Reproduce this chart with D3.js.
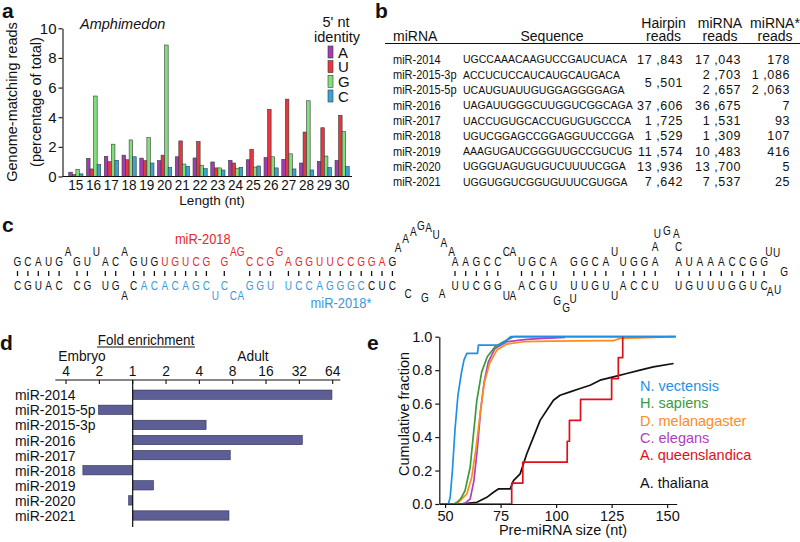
<!DOCTYPE html>
<html><head><meta charset="utf-8">
<script src="https://cdn.jsdelivr.net/npm/d3@7"></script>
<style>
body{margin:0;background:#fff}
svg{display:block}
text{font-family:"Liberation Sans",Arial,Helvetica,sans-serif}
</style>
</head><body>
<svg id="fig" width="800" height="542"></svg>
<script>
// ================= DATA =================
// Panel a
const lengths = ["15","16","17","18","19","20","21","22","23","24","25","26","27","28","29","30"];
const ntIds = ["A","U","G","C"];
const readsA = [0.29,1.22,1.36,1.44,1.24,1.07,1.33,1.25,0.98,1.09,1.13,1.27,1.16,0.91,1.02,1.09];
const readsU = [0.13,0.51,1.00,1.13,1.07,1.44,2.40,2.36,0.58,0.91,1.84,4.53,5.22,3.00,3.29,4.13];
const readsG = [0.47,5.43,2.18,2.47,2.62,8.87,0.84,0.76,0.58,0.56,0.64,1.33,1.53,5.11,1.38,3.04];
const readsC = [0.18,0.80,1.09,1.33,0.91,0.60,0.69,0.53,0.44,0.62,0.71,0.58,0.51,0.44,0.60,0.67];
const yTicksA = [0,2,4,6,8,10];

// Panel b
const mirNames = ["miR-2014","miR-2015-3p","miR-2015-5p","miR-2016","miR-2017","miR-2018","miR-2019","miR-2020","miR-2021"];
const mirSeqs = ["UGCCAAACAAGUCCGAUCUACA","ACCUCUCCAUCAUGCAUGACA","UCAUGUAUUGUGGAGGGGAGA","UAGAUUGGGCUUGGUCGGCAGA","UACCUGUGCACCUGUGUGCCCA","UGUCGGAGCCGGAGGUUCCGGA","AAAGUGAUCGGGUUGCCGUCUG","UGGGUAGUGUGUCUUUUCGGA","UGGUGGUCGGUGUUUCGUGGA"];
const hairpinReads = [17843,5501,null,37606,1725,1529,11574,13936,7642];
const matureReads = [17043,2703,2657,36675,1531,1309,10483,13700,7537];
const starReads = [178,1086,2063,7,93,107,416,5,25];

// Panel c (hairpin of miR-2018); '-' = no base, '*' = bulge group
const stemLTop  = "GCAUGAGUUACAGUGUGUCG-GAGCCGGAGGUUCCGGAG";
const stemLBot  = "CGUAC-CG-UGACACACAGCUCCAGGU-UCCAGGGCCUC";
const stemLKind = "pppppbppbppbppppppppbpbbpppbppppppppppp";
const mirTopRange = [15,37];   // miR-2018 on top strand (column index)
const starBotRange = [13,35];  // miR-2018* on bottom strand
const loop1Top = "AAAGAUAA";
const loop1Bot = "CGA";
const stemR1Top  = "AAGCCCAUGCA-GGCAUUGGA";
const stemR1Bot  = "UUCGGUAACGU*UUGUUACCU";
const stemR1Kind = "pppppbbppppvppppbpppp";
const bulgeV = "GGU";
const loop2Top = "AUGAC";
const stemR2Top  = "AUAAACCGG";
const stemR2Bot  = "UGUUUGGUC";
const stemR2Kind = "ppppppppp";
const termLoop = "UUGUA";

// Panel d
const mirOrderD = ["miR-2014","miR-2015-5p","miR-2015-3p","miR-2016","miR-2017","miR-2018","miR-2019","miR-2020","miR-2021"];
const foldEnrich = [63,0.49,4.6,34,7.6,0.355,1.54,0.92,7.4];   // adult / embryo
const foldTicks = [0.25,0.5,1,2,4,8,16,32,64];

// Panel e
const species = ["N. vectensis","H. sapiens","D. melanagaster","C. elegans","A. queenslandica","A. thaliana"];
const cdfNve = [[48,0],[51.5,0],[52.3,0.04],[53.3,0.2],[54.5,0.45],[55.8,0.65],[57.3,0.78],[58.5,0.86],[59.8,0.9],[64.6,0.9],[65,0.95],[74.8,0.95],[77,0.97],[79.5,1],[154,1]];
const cdfHsa = [[48,0],[54,0],[55.3,0.01],[57,0.03],[59,0.08],[61.3,0.22],[62.8,0.42],[64.3,0.62],[66.5,0.79],[69,0.88],[72.5,0.94],[76.3,0.97],[80.8,1],[154,1]];
const cdfDme = [[48,0],[55,0],[56,0.01],[59.8,0.06],[62,0.16],[64,0.34],[65.8,0.54],[67.6,0.72],[70,0.84],[73.3,0.92],[77.8,0.956],[85.3,0.97],[97.3,0.974],[125.8,0.976],[128.8,0.99],[140.8,0.994],[152.9,1]];
const cdfCel = [[48,0],[58,0],[59,0.005],[61.3,0.03],[63,0.14],[64.6,0.34],[66,0.56],[67.6,0.73],[69.5,0.85],[72.5,0.93],[77.8,0.97],[86.8,0.984],[94.3,0.99],[104,0.996]];
const aqueSizes = [80,85,105,106,111,125,128,130];
const cdfAth = [[48,0],[56,0],[60,0.004],[64.3,0.01],[68.8,0.04],[71.8,0.07],[74,0.09],[79.3,0.09],[80.8,0.14],[83.8,0.18],[86.8,0.3],[89.8,0.4],[92.8,0.5],[95.8,0.56],[98.8,0.62],[101.8,0.65],[106.3,0.67],[110.8,0.69],[115.3,0.71],[119.8,0.74],[125.8,0.76],[131.8,0.78],[137.8,0.8],[143.8,0.82],[152.9,0.84]];
const xTicksE = [50,75,100,125,150];
const yTicksE = [0,0.2,0.4,0.6,0.8,1.0];

// ================= HELPERS =================
const svg = d3.select("#fig");
function T(g, x, y, s, o = {}) {
  let tr = `translate(${x},${y})`;
  if (o.rot) tr += ` rotate(${o.rot})`;
  if (o.sx && o.sx !== 1) tr += ` scale(${o.sx},1)`;
  const t = g.append("text").attr("transform", tr)
    .attr("font-size", o.size || 14)
    .attr("text-anchor", o.anchor || "start")
    .attr("fill", o.fill || "#111").text(s);
  if (o.weight) t.attr("font-weight", o.weight);
  if (o.italic) t.attr("font-style", "italic");
  if (o.family) t.attr("font-family", o.family);
  if (o.ls) t.attr("letter-spacing", o.ls);
  return t;
}
const BLACK = "#111";

// panel letters
[["a",2,18],["b",375,18],["c",2,232],["d",0,350],["e",367,350]].forEach(([l,x,y]) =>
  T(svg, x, y, l, {size: 21, weight: "bold"}));

// ================= PANEL A =================
(function(){
  const g = svg.append("g");
  const x = d3.scaleBand().domain(lengths).range([67, 351]);
  const xs = d3.scaleBand().domain(ntIds).range([0, x.bandwidth()]).paddingOuter(0.5);
  const y = d3.scaleLinear().domain([0, 10]).range([176.5, 28.3]);
  const colors = ["#a13db2","#e5373d","#7fe07b","#37a6d6"];
  const series = [readsA, readsU, readsG, readsC];
  series.forEach((vals, si) => {
    g.selectAll(null).data(vals).enter().append("rect")
      .attr("x", (d,i) => x(lengths[i]) + xs(ntIds[si]))
      .attr("width", xs.bandwidth())
      .attr("y", d => y(d)).attr("height", d => y(0) - y(d))
      .attr("fill", colors[si]).attr("stroke", "#3a3a3a").attr("stroke-width", 0.6);
  });
  const ax = g.append("g").attr("transform", "translate(62.5,0)")
    .call(d3.axisLeft(y).tickValues(yTicksA).tickSize(4).tickSizeOuter(0).tickPadding(2));
  ax.selectAll("path,line").attr("stroke", BLACK).attr("stroke-width", 1.1);
  ax.selectAll("text").attr("font-size", 15).attr("fill", BLACK)
    .attr("font-family", '"Liberation Sans",Arial,sans-serif');
  g.append("line").attr("x1", 62.5).attr("x2", 352).attr("y1", y(0)).attr("y2", y(0))
    .attr("stroke", BLACK).attr("stroke-width", 1.1);
  lengths.forEach(l => T(g, x(l) + x.bandwidth()/2, 190, l, {size: 14, anchor: "middle", sx: 0.97}));
  T(g, 212, 205, "Length (nt)", {size: 13.5, anchor: "middle"});
  T(g, 17, 102, "Genome-matching reads", {size: 14.5, anchor: "middle", rot: -90});
  T(g, 41, 102, "(percentage of total)", {size: 14.5, anchor: "middle", rot: -90});
  T(g, 80, 29, "Amphimedon", {size: 14.5, italic: true});
  T(g, 336, 27, "5' nt", {size: 14.5, anchor: "middle"});
  T(g, 337, 42, "identity", {size: 14.5, anchor: "middle"});
  const ly = d3.scalePoint().domain(ntIds).range([52, 96]);
  ntIds.forEach((n, i) => {
    g.append("rect").attr("x", 328).attr("y", ly(n) - 6).attr("width", 5).attr("height", 12)
      .attr("fill", colors[i]).attr("stroke", "#3a3a3a").attr("stroke-width", 0.6);
    T(g, 338, ly(n) + 5.5, n, {size: 15});
  });
})();

// ================= PANEL B =================
(function(){
  const g = svg.append("g");
  const y = d3.scalePoint().domain(mirNames).range([59.3, 181.7]);
  const fmt = v => d3.format(",")(v).replace(",", " ,");
  const serif = '"Liberation Serif","Times New Roman",serif';
  T(g, 393, 41, "miRNA", {size: 14});
  T(g, 552, 41, "Sequence", {size: 14, anchor: "middle"});
  T(g, 663.5, 28, "Hairpin", {size: 14, anchor: "middle"});
  T(g, 663.5, 41, "reads", {size: 14, anchor: "middle"});
  T(g, 720, 28, "miRNA", {size: 14, anchor: "middle"});
  T(g, 720, 41, "reads", {size: 14, anchor: "middle"});
  T(g, 775, 28, "miRNA*", {size: 14, anchor: "middle"});
  T(g, 775, 41, "reads", {size: 14, anchor: "middle"});
  g.append("line").attr("x1", 385).attr("x2", 800).attr("y1", 43.5).attr("y2", 43.5)
    .attr("stroke", BLACK).attr("stroke-width", 1.2);
  mirNames.forEach((m, i) => {
    const yy = y(m);
    T(g, 393, yy + 4.5, m, {size: 12.5, sx: 0.88});
    T(g, 463, yy + 4, mirSeqs[i], {size: 10.5, family: serif});
    if (hairpinReads[i] !== null) {
      const merged = (i + 1 < mirNames.length && hairpinReads[i+1] === null);
      const hy = merged ? (yy + y(mirNames[i+1])) / 2 : yy;
      T(g, 683, hy + 4.5, fmt(hairpinReads[i]), {size: 12.5, anchor: "end", family: serif, ls: 0.6});
    }
    T(g, 741, yy + 4.5, fmt(matureReads[i]), {size: 12.5, anchor: "end", family: serif, ls: 0.6});
    T(g, 790, yy + 4.5, fmt(starReads[i]), {size: 12.5, anchor: "end", family: serif, ls: 0.6});
  });
})();

// ================= PANEL C =================
(function(){
  const g = svg.append("g");
  const RED = "#e8262b", BLUE = "#3a97dc";
  const yTop = 266, yBot = 289.5, yRaise = 256, yLow = 299.5, tick0 = 271, tick1 = 276;
  const fs = 12.5, sxl = 0.8;
  const L = (x, yb, ch, col) => T(g, x, yb, ch, {size: fs, anchor: "middle", sx: sxl, fill: col});
  const tick = x => g.append("line").attr("x1", x).attr("x2", x).attr("y1", tick0).attr("y2", tick1)
      .attr("stroke", BLACK).attr("stroke-width", 1.3);
  function layout(kind, start, P, B, V) {
    const w = k => k === "p" ? P : k === "b" ? B : V;
    const xs = []; let x = start;
    for (let i = 0; i < kind.length; i++) {
      if (i > 0) x += w(kind[i-1]) / 2 + w(kind[i]) / 2;
      xs.push(x);
    }
    return xs;
  }
  function drawStem(top, bot, kind, xs, topCol, botCol) {
    for (let i = 0; i < kind.length; i++) {
      const k = kind[i], x = xs[i];
      const tc = topCol(i), bc = botCol(i);
      if (k === "p") {
        L(x, yTop, top[i], tc); L(x, yBot, bot[i], bc); tick(x);
      } else if (k === "b") {
        if (top[i] !== "-") L(x, yRaise, top[i], tc);
        if (bot[i] !== "-") L(x, yLow, bot[i], bc);
      }
    }
  }
  const xsL = layout(stemLKind, 17.5, 10.4, 7.5, 0);
  drawStem(stemLTop, stemLBot, stemLKind, xsL,
    i => (i >= mirTopRange[0] && i <= mirTopRange[1]) ? RED : BLACK,
    i => (i >= starBotRange[0] && i <= starBotRange[1]) ? BLUE : BLACK);
  const xl1 = xsL[xsL.length - 1];
  const xsR1 = layout(stemR1Kind, xl1 + 62.6, 10.7, 6.5, 9.5);
  drawStem(stemR1Top, stemR1Bot, stemR1Kind, xsR1, () => BLACK, () => BLACK);
  const xr1 = xsR1[0];
  const l1 = d3.scaleLinear().domain([0, loop1Top.length - 1]).range([xl1 + 5.6, xr1 - 3.5]);
  const l1c = (xl1 + xr1) / 2 - 0.5;
  loop1Top.split("").forEach((ch, i) => {
    const x = l1(i), dx = Math.abs(x - l1c);
    L(x, 224.5 + 0.35 * Math.pow(dx, 1.3) + 4.4, ch, BLACK);
  });
  const l1b = d3.scaleLinear().domain([0, loop1Bot.length - 1]).range([xl1 + 15.6, xr1 - 13]);
  const l1bc = (l1b(0) + l1b(loop1Bot.length - 1)) / 2, l1bh = (l1b(loop1Bot.length - 1) - l1b(0)) / 2;
  loop1Bot.split("").forEach((ch, i) => {
    const x = l1b(i), u = (x - l1bc) / l1bh;
    L(x, 294 + 4 * (1 - u * u) + 4.4, ch, BLACK);
  });
  const vi = stemR1Kind.indexOf("v"), vx = xsR1[vi];
  const vOff = [[-6.5, 300.5], [2.5, 307.5], [9.5, 298.5]];
  bulgeV.split("").forEach((ch, i) => L(vx + vOff[i][0], vOff[i][1] + 4.4, ch, BLACK));
  const xe1 = xsR1[xsR1.length - 1];
  const xsR2 = layout(stemR2Kind, xe1 + 23.3, 10.7, 6.5, 0);
  drawStem(stemR2Top, stemR2Bot, stemR2Kind, xsR2, () => BLACK, () => BLACK);
  const c2 = (xe1 + xsR2[0]) / 2, rx2 = (xsR2[0] - xe1) / 2, ry2 = 16;
  const ang2 = d3.scaleLinear().domain([0, loop2Top.length - 1]).range([Math.PI, 0]);
  loop2Top.split("").forEach((ch, i) => {
    const a = ang2(i), cs = Math.cos(a), sn = Math.sin(a);
    const x = c2 + rx2 * Math.sign(cs) * Math.pow(Math.abs(cs), 0.6);
    const yc = 247 - ry2 * Math.pow(Math.abs(sn), 0.6);
    L(x, yc + 4.4, ch, BLACK);
  });
  const xEnd = xsR2[xsR2.length - 1];
  const angT = [100, 65, 0, -60, -95];
  termLoop.split("").forEach((ch, i) => {
    const a = angT[i] * Math.PI / 180;
    L(xEnd + 7 + 13 * Math.cos(a), 271.5 - 20.5 * Math.sin(a) + 4.4, ch, BLACK);
  });
  T(g, (xsL[15] + xsL[23]) / 2, 244, "miR-2018", {size: 14, anchor: "middle", fill: RED, sx: 0.92});
  T(g, 341, 308, "miR-2018*", {size: 14, anchor: "middle", fill: BLUE, sx: 0.92});
})();

// ================= PANEL D =================
(function(){
  const g = svg.append("g");
  const x = d3.scaleLog().base(2).domain([0.25, 64]).range([66.03, 332.7]);
  const y = d3.scaleBand().domain(mirOrderD).range([384.3, 525.9]).padding(0.38);
  g.selectAll(null).data(foldEnrich).enter().append("rect")
    .attr("x", d => Math.min(x(d), x(1)))
    .attr("width", d => Math.abs(x(d) - x(1)))
    .attr("y", (d,i) => y(mirOrderD[i])).attr("height", y.bandwidth())
    .attr("fill", "#5e5e97").attr("stroke", "#2e2e55").attr("stroke-width", 0.6);
  g.append("line").attr("x1", x(0.2)).attr("x2", x(75)).attr("y1", 380).attr("y2", 380)
    .attr("stroke", BLACK).attr("stroke-width", 1.2);
  g.append("line").attr("x1", x(1)).attr("x2", x(1)).attr("y1", 380).attr("y2", 527)
    .attr("stroke", BLACK).attr("stroke-width", 1.2);
  foldTicks.forEach(t => {
    g.append("line").attr("x1", x(t)).attr("x2", x(t)).attr("y1", 380).attr("y2", 384)
      .attr("stroke", BLACK).attr("stroke-width", 1.1);
    T(g, x(t), 376, t < 1 ? String(1 / t) : String(t), {size: 15, anchor: "middle", sx: 0.92});
  });
  T(g, 82, 360.5, "Embryo", {size: 14.5, anchor: "middle", sx: 0.95});
  T(g, 253, 360.5, "Adult", {size: 14.5, anchor: "middle", sx: 0.95});
  T(g, 146, 344.5, "Fold enrichment", {size: 14.5, anchor: "middle", sx: 0.93});
  g.append("line").attr("x1", 97).attr("x2", 195).attr("y1", 347).attr("y2", 347)
    .attr("stroke", BLACK).attr("stroke-width", 1);
  mirOrderD.forEach(m => T(g, 15, y(m) + y.bandwidth()/2 + 5.5, m, {size: 15.5, sx: 0.9}));
})();

// ================= PANEL E =================
(function(){
  const g = svg.append("g");
  const x = d3.scaleLinear().domain([47.4, 154.3]).range([439.3, 676.7]);
  const y = d3.scaleLinear().domain([0, 1]).range([504, 336.7]);
  const colors = ["#1e90e6","#3a9a3a","#ff8c1a","#b040c0","#e0101a","#111111"];
  const line = d3.line().x(d => x(d[0])).y(d => y(d[1]));
  const n = aqueSizes.length;
  const aque = [[48, 0]];
  aqueSizes.forEach((s, i) => { aque.push([s, i / n]); aque.push([s, (i + 1) / n]); });
  const curves = [[cdfAth,5],[cdfCel,3],[cdfDme,2],[cdfHsa,1],[cdfNve,0],[aque,4]];
  curves.forEach(([pts, ci]) => g.append("path").attr("d", line(pts)).attr("fill", "none")
    .attr("stroke", colors[ci]).attr("stroke-width", 1.7).attr("stroke-linejoin", "round"));
  const ay = g.append("g").attr("transform", "translate(439.3,0)")
    .call(d3.axisLeft(y).tickValues(yTicksE).tickFormat(d3.format(".1f")).tickSize(4).tickSizeOuter(0).tickPadding(3));
  const ax = g.append("g").attr("transform", "translate(0,504)")
    .call(d3.axisBottom(x).tickValues(xTicksE).tickSize(4).tickSizeOuter(0).tickPadding(3));
  [ay, ax].forEach(a => {
    a.selectAll("path,line").attr("stroke", BLACK).attr("stroke-width", 1.2);
    a.selectAll("text").attr("font-size", 14.5).attr("fill", BLACK)
      .attr("font-family", '"Liberation Sans",Arial,sans-serif');
  });
  T(g, 409, 414, "Cumulative fraction", {size: 14.5, anchor: "middle", rot: -90});
  T(g, 563, 535, "Pre-miRNA size (nt)", {size: 14.5, anchor: "middle"});
  const ly = [386, 403.3, 420.6, 437.9, 455.2, 483];
  species.forEach((s, i) => T(g, 640, ly[i] + 5, s, {size: 14.5, fill: colors[i]}));
})();
</script>
</body></html>
